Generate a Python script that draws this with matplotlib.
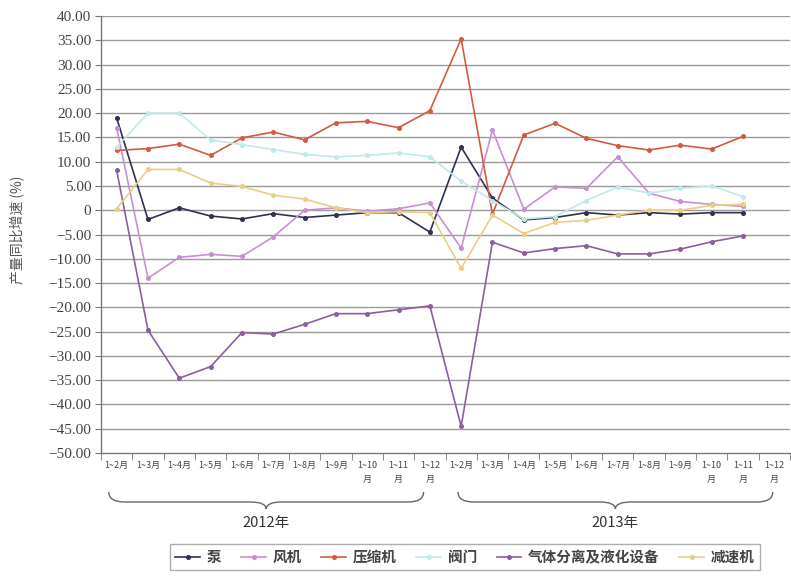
import numpy as np
import matplotlib
matplotlib.use("Agg")
import matplotlib.pyplot as plt
from matplotlib.path import Path
from matplotlib.patches import PathPatch
import matplotlib.transforms as mtransforms

plt.rcParams['font.family'] = ['Noto Sans CJK SC', 'DejaVu Sans']

months = ["1~2月", "1~3月", "1~4月", "1~5月", "1~6月", "1~7月", "1~8月", "1~9月",
          "1~10\n月", "1~11\n月", "1~12\n月"]
categories = months + months
years = ["2012年", "2013年"]

nan = np.nan
pump = [19.0, -1.9, 0.5, -1.2, -1.8, -0.7, -1.5, -1.0, -0.5, -0.5, -4.5,
        13.0, 2.5, -2.0, -1.5, -0.5, -1.0, -0.5, -0.8, -0.5, -0.5, nan]
fan = [17.0, -14.0, -9.7, -9.1, -9.5, -5.5, 0.0, 0.5, -0.2, 0.3, 1.5,
       -7.8, 16.5, 0.2, 4.8, 4.5, 11.0, 3.5, 1.8, 1.2, 0.8, nan]
compressor = [12.3, 12.7, 13.6, 11.3, 14.9, 16.1, 14.5, 18.0, 18.3, 17.0, 20.5,
              35.3, -0.8, 15.5, 17.9, 14.8, 13.3, 12.4, 13.4, 12.6, 15.2, nan]
valve = [13.0, 20.0, 20.0, 14.5, 13.5, 12.5, 11.5, 11.0, 11.3, 11.8, 11.0,
         6.0, 2.0, -1.8, -1.3, 2.0, 4.8, 3.5, 4.5, 5.0, 2.8, nan]
gas = [8.2, -24.7, -34.6, -32.2, -25.2, -25.5, -23.5, -21.3, -21.3, -20.5, -19.7,
       -44.5, -6.6, -8.8, -7.9, -7.3, -9.0, -9.0, -8.0, -6.5, -5.3, nan]
reducer = [0.3, 8.4, 8.4, 5.6, 4.9, 3.1, 2.3, 0.5, -0.5, -0.3, -0.5,
           -12.0, -1.0, -4.8, -2.5, -2.1, -1.0, 0.0, 0.0, 1.0, 1.2, nan]

series = [("泵", pump, "#2f3150"),
          ("风机", fan, "#c88fd2"),
          ("压缩机", compressor, "#d35a40"),
          ("阀门", valve, "#c0e9ea"),
          ("气体分离及液化设备", gas, "#8c5ea0"),
          ("减速机", reducer, "#ebcd85")]

W, H = 791, 578
fig = plt.figure(figsize=(W / 100, H / 100), dpi=100)
ax = fig.add_axes([101 / W, 1 - 453 / H, (790 - 101) / W, (453 - 16) / H])

x = np.arange(len(categories))
for name, vals, col in series:
    ax.plot(x, vals, color=col, lw=1.2, marker='o', ms=2.6, label=name, zorder=3)

ax.set_xlim(-0.5, len(categories) - 0.5)
ax.set_ylim(-50, 40)
yt = np.arange(-50, 41, 5)
ax.set_yticks(yt)
ax.set_yticklabels(["0" if v == 0 else f"{v:.2f}".replace("-", "−") for v in yt],
                   fontfamily="Liberation Serif", fontsize=11, color="#444444")
for v in yt:
    if v != -50:
        ax.axhline(v, color="#9a9a9a", lw=1.0, zorder=1)

ax.set_xticks(x)
ax.set_xticklabels(categories, fontsize=6.5, color="#444444", linespacing=1.6,
                   va="top")
ax.set_xticks(np.arange(-0.5, len(categories), 1), minor=True)
ax.tick_params(axis="x", which="major", length=0, pad=6)
ax.tick_params(axis="x", which="minor", length=5, color="#777777", direction="out")
ax.tick_params(axis="y", length=4, color="#777777", direction="out", pad=3)

for s in ["top", "right"]:
    ax.spines[s].set_visible(False)
for s in ["left", "bottom"]:
    ax.spines[s].set_color("#777777")
    ax.spines[s].set_linewidth(1.0)

# Braces under axis
trans = mtransforms.blended_transform_factory(ax.transData, fig.transFigure)
ytop, ymid, ybot = 1 - 492 / H, 1 - 502 / H, 1 - 509 / H

def brace(x0, x1):
    xm = (x0 + x1) / 2
    d = 0.5
    verts = [(x0, ytop), (x0, ymid), (x0 + d, ymid),
             (xm - d, ymid),
             (xm, ymid), (xm, ybot),
             (xm, ymid), (xm + d, ymid),
             (x1 - d, ymid),
             (x1, ymid), (x1, ytop)]
    codes = [Path.MOVETO, Path.CURVE3, Path.CURVE3,
             Path.LINETO,
             Path.CURVE3, Path.CURVE3,
             Path.CURVE3, Path.CURVE3,
             Path.LINETO,
             Path.CURVE3, Path.CURVE3]
    p = PathPatch(Path(verts, codes), transform=trans, fill=False,
                  edgecolor="#666666", lw=1.0, clip_on=False)
    fig.add_artist(p)
    return xm

xms = [brace(-0.25, 9.8), brace(10.9, 20.95)]
for xm, yr in zip(xms, years):
    fig.text(xm, 1 - 523 / H, yr, transform=trans, ha="center", va="center",
             fontsize=10.5, color="#333333")

fig.text(18 / W, 1 - 230 / H, "产量同比增速 (%)", rotation=90, ha="center",
         va="center", fontsize=10, color="#555555")

leg = fig.legend(loc="center", bbox_to_anchor=(465 / W, 1 - 557 / H), ncol=6,
                 frameon=True, fancybox=False, edgecolor="#999999", fontsize=10.5,
                 handlelength=1.7, handletextpad=0.45, columnspacing=1.35,
                 borderpad=0.35)
for t in leg.get_texts():
    t.set_color("#444444")
    t.set_fontweight("bold")

fig.savefig("out.png", dpi=100, facecolor="white")
